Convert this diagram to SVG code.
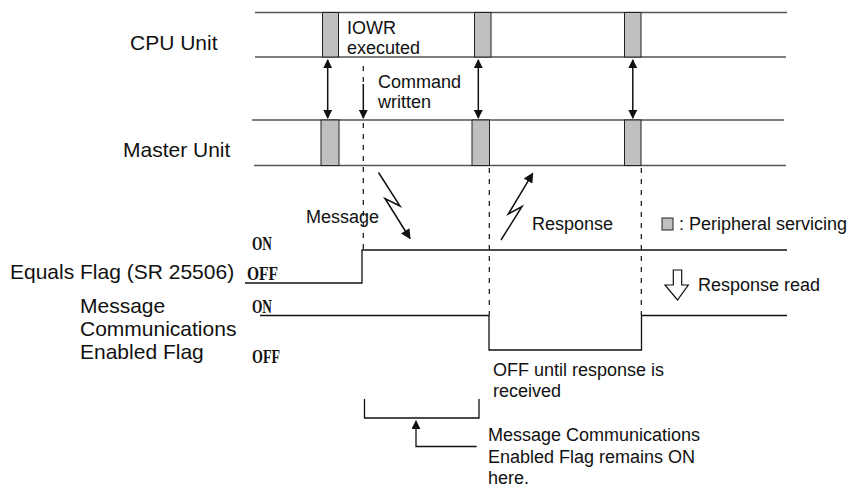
<svg xmlns="http://www.w3.org/2000/svg" width="865" height="489" viewBox="0 0 865 489">
<defs>
<style>
.lbl{font-family:"Liberation Sans",Arial,sans-serif;font-size:21px;fill:#111}
.t{font-family:"Liberation Sans",Arial,sans-serif;font-size:18px;fill:#111}
.st{font-family:"Liberation Serif","Times New Roman",serif;font-size:18px;font-weight:bold;fill:#111}
.rail{stroke:#555;stroke-width:1.4;fill:none}
.box{fill:#c0c0c0;stroke:#222;stroke-width:1}
.sig{stroke:#111;stroke-width:1.3;fill:none}
.dash{stroke:#111;stroke-width:1.2;stroke-dasharray:5,6;fill:none}
.arr{stroke:#111;stroke-width:1.5;fill:none}
</style>
<marker id="ah" viewBox="0 0 10 10" refX="9" refY="5" markerWidth="9" markerHeight="9" markerUnits="userSpaceOnUse" orient="auto-start-reverse">
<path d="M0,0 L10,5 L0,10 Z" fill="#111"/>
</marker>
<marker id="ah2" viewBox="0 0 10 10" refX="9" refY="5" markerWidth="13" markerHeight="10" markerUnits="userSpaceOnUse" orient="auto">
<path d="M0,0 L10,5 L0,10 Z" fill="#111"/>
</marker>
</defs>

<g id="cpu-unit">
<text class="lbl" x="130" y="50">CPU Unit</text>
<line class="rail" x1="255" y1="12.5" x2="787" y2="12.5"/>
<line class="rail" x1="255" y1="57" x2="786" y2="57"/>
<rect class="box" x="322.5" y="12.5" width="16" height="44.5"/>
<rect class="box" x="474.5" y="12.5" width="16.5" height="44.5"/>
<rect class="box" x="624.5" y="12.5" width="16.5" height="44.5"/>
<text class="t" x="347" y="34">IOWR</text>
<text class="t" x="347" y="54">executed</text>
</g>

<g id="master-unit">
<text class="lbl" x="123" y="157">Master Unit</text>
<line class="rail" x1="252" y1="120" x2="784" y2="120"/>
<line class="rail" x1="254" y1="165.5" x2="786" y2="165.5"/>
<rect class="box" x="321" y="120" width="18" height="45.5"/>
<rect class="box" x="472" y="120" width="17.5" height="45.5"/>
<rect class="box" x="624.5" y="120" width="16.5" height="45.5"/>
</g>

<g id="equals-flag">
<text class="lbl" x="10" y="279">Equals Flag (SR 25506)</text>
<text class="st" x="252" y="250" textLength="20" lengthAdjust="spacingAndGlyphs">ON</text>
<text class="st" x="247" y="280" textLength="31" lengthAdjust="spacingAndGlyphs">OFF</text>
<polyline class="sig" points="245,283 362,283 362,250 787,250"/>
</g>

<g id="msg-comm-flag">
<text class="lbl" x="80" y="313">Message</text>
<text class="lbl" x="80" y="336">Communications</text>
<text class="lbl" x="80" y="359">Enabled Flag</text>
<text class="st" x="252" y="313" textLength="20" lengthAdjust="spacingAndGlyphs">ON</text>
<text class="st" x="252" y="363" textLength="28" lengthAdjust="spacingAndGlyphs">OFF</text>
<polyline class="sig" points="260,315.5 489,315.5 489,350 641.5,350 641.5,315.5 787,315.5"/>
<text class="t" x="493" y="376">OFF until response is</text>
<text class="t" x="493" y="397">received</text>
</g>

<g id="legend">
<rect class="box" x="662" y="218" width="11" height="12"/>
<text class="t" x="679" y="230">: Peripheral servicing</text>
</g>

<g id="response-read">
<path d="M673.3,270 L681.7,270 L681.7,285 L688.3,285 L677.5,300 L665,285 L673.3,285 Z" fill="#fff" stroke="#111" stroke-width="1.2"/>
<text class="t" x="698" y="291">Response read</text>
</g>

<g id="remains-on-note">
<polyline class="sig" points="364.5,399 364.5,418 479,418 479,399"/>
<text class="t" x="488" y="441">Message Communications</text>
<text class="t" x="488" y="463">Enabled Flag remains ON</text>
<text class="t" x="488" y="484">here.</text>
</g>

<g id="connectors">
<line class="arr" x1="327.7" y1="60" x2="327.7" y2="118" marker-start="url(#ah)" marker-end="url(#ah)"/>
<line class="arr" x1="478.3" y1="60" x2="478.3" y2="118" marker-start="url(#ah)" marker-end="url(#ah)"/>
<line class="arr" x1="632.8" y1="60" x2="632.8" y2="118" marker-start="url(#ah)" marker-end="url(#ah)"/>
<line class="dash" x1="363.3" y1="66" x2="363.3" y2="86"/>
<line class="arr" x1="363.3" y1="84" x2="363.3" y2="118" marker-end="url(#ah)"/>
<text class="t" x="378" y="88">Command</text>
<text class="t" x="378" y="108">written</text>
<line class="dash" x1="363.3" y1="123" x2="363.3" y2="250"/>
<line class="dash" x1="489.3" y1="168" x2="489.3" y2="315"/>
<line class="dash" x1="641.3" y1="168" x2="641.3" y2="315"/>
<polyline class="arr" points="378.5,172.5 400,206 385,198.5 410,238.5" marker-end="url(#ah2)"/>
<text class="t" x="306" y="223">Message</text>
<polyline class="arr" points="501,240 522,206.5 508.3,214 532.7,173.3" marker-end="url(#ah2)"/>
<text class="t" x="532" y="230">Response</text>
<polyline class="sig" points="476.7,446.5 416,446.5 416,421" marker-end="url(#ah)"/>
</g>
</svg>
